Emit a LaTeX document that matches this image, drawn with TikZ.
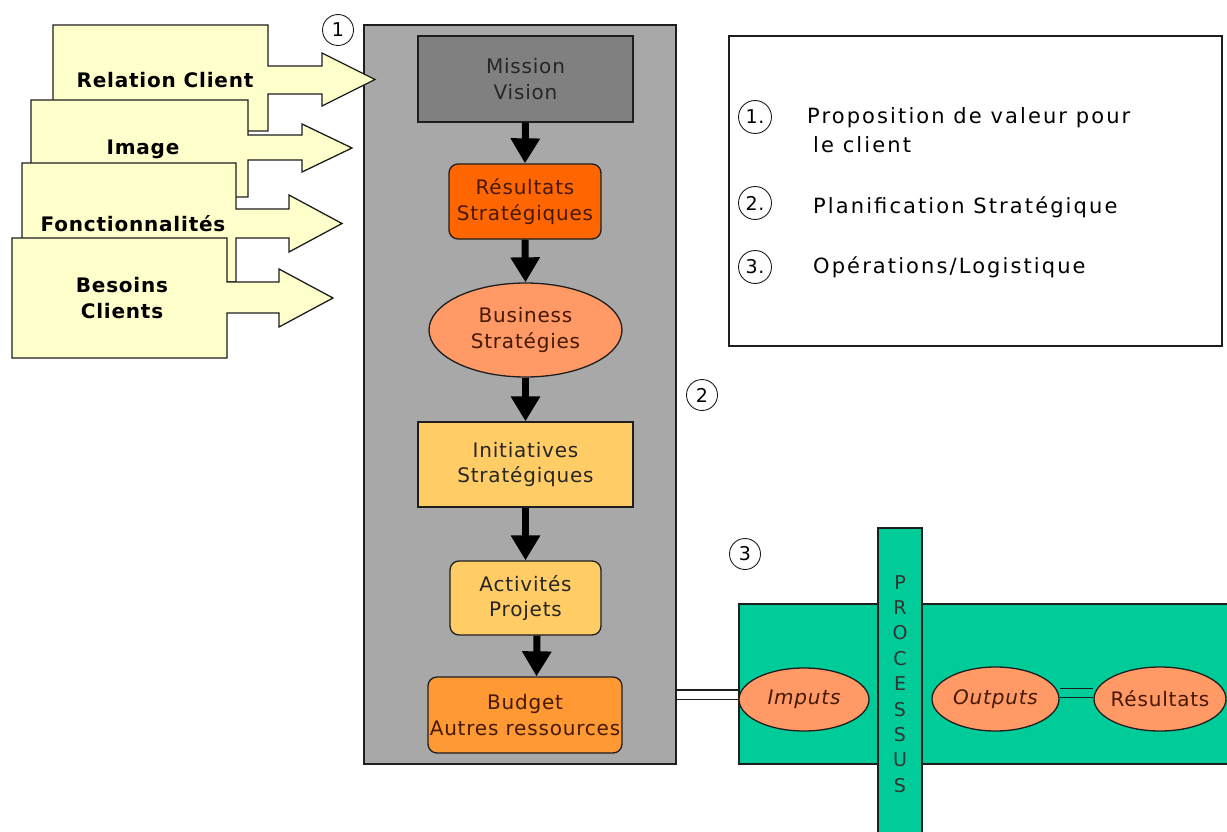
\documentclass[tikz,border=0pt]{standalone}
\usepackage{fontspec}
\setmainfont{DejaVu Sans}[LetterSpace=4]
\newfontfamily\legfont{DejaVu Sans}[LetterSpace=10]
\usetikzlibrary{arrows.meta,shapes.geometric}
\definecolor{callfill}{RGB}{255,255,204}
\definecolor{panelgray}{RGB}{168,168,168}
\definecolor{missgray}{RGB}{128,128,128}
\definecolor{resorange}{RGB}{255,102,0}
\definecolor{salmon}{RGB}{255,153,102}
\definecolor{lightorange}{RGB}{255,204,102}
\definecolor{budorange}{RGB}{255,153,51}
\definecolor{procgreen}{RGB}{0,204,153}
\definecolor{edgecol}{RGB}{30,30,30}
\definecolor{txtbrown}{RGB}{70,25,5}
\tikzset{
  box/.style={draw=edgecol, line width=1.3pt, inner sep=0pt, align=center,
    font=\fontsize{20}{25.5}\selectfont},
  rbox/.style={box, rounded corners=9pt},
  ell/.style={box, ellipse},
  flow/.style={line width=7pt, draw=black, -{Triangle[length=25pt,width=28pt]}},
  num/.style={circle, draw=edgecol, line width=0.9pt, minimum size=31pt,
    inner sep=0pt, font=\fontsize{19}{19}\selectfont},
  callout/.style={draw=edgecol, line width=1.3pt, fill=callfill, line join=miter},
  calltext/.style={font=\bfseries\fontsize{20}{26}\selectfont, align=center},
  legtext/.style={anchor=base west, inner sep=0pt, font=\legfont\fontsize{21}{21}\selectfont},
  dbl/.style={double distance=8pt, line width=1.3pt, draw=edgecol}
}
\begin{document}
\begin{tikzpicture}[x=1pt,y=-1pt]
\useasboundingbox (0,0) rectangle (1227,832);
\clip (0,0) rectangle (1227,832);

% central panel
\node[draw=edgecol, line width=1.5pt, fill=panelgray, minimum width=312pt,
  minimum height=739pt, inner sep=0pt] (panel) at (520,394.5) {};

% callouts
\path[callout] (53,25) -- (268,25) -- (268,66) -- (322,66) -- (322,53) -- (375,79.5)
  -- (322,106) -- (322,94) -- (268,94) -- (268,131) -- (53,131) -- cycle;
\node[calltext] (t1) at (165,80) {Relation Client};
\path[callout] (31,100) -- (248,100) -- (248,135) -- (302,135) -- (302,124) -- (352,148)
  -- (302,172) -- (302,160) -- (248,160) -- (248,197) -- (31,197) -- cycle;
\node[calltext] (t2) at (143,149) {Image};
\path[callout] (22,163) -- (236,163) -- (236,209) -- (289,209) -- (289,195) -- (342,223.5)
  -- (289,252) -- (289,238) -- (236,238) -- (236,282) -- (22,282) -- cycle;
\node[calltext] (t3) at (133,224) {Fonctionnalités};
\path[callout] (12,238) -- (227,238) -- (227,282) -- (279,282) -- (279,269) -- (333,298)
  -- (279,327) -- (279,313) -- (227,313) -- (227,358) -- (12,358) -- cycle;
\node[calltext] (t4) at (122,298) {Besoins\\Clients};

% column boxes
\node[box, fill=missgray, text=black!85, minimum width=215pt, minimum height=86pt]
  (mission) at (525.5,79) {Mission\\Vision};
\node[rbox, fill=resorange, text=txtbrown, minimum width=152pt, minimum height=75pt]
  (res) at (525,201.5) {Résultats\\Stratégiques};
\node[ell, fill=salmon, text=txtbrown, minimum width=193pt, minimum height=94pt]
  (bus) at (525.5,330) {Business\\Stratégies};
\node[box, fill=lightorange, text=black!85, minimum width=215pt, minimum height=85pt]
  (ini) at (525.5,464.5) {Initiatives\\Stratégiques};
\node[rbox, fill=lightorange, text=black!85, minimum width=151pt, minimum height=74pt]
  (act) at (525.5,598) {Activités\\Projets};
\node[rbox, fill=budorange, text=txtbrown, minimum width=194pt, minimum height=76pt]
  (bud) at (525,715) {Budget\\Autres ressources};

\draw[flow] (mission.south) -- (res.north);
\draw[flow] (res.south) -- (bus.north);
\draw[flow] (bus.south) -- (ini.north);
\draw[flow] (ini.south) -- (act.north);
\draw[flow] ([xshift=11.5pt]act.south) -- ([xshift=11.5pt]bud.north);

% numbered circles
\node[num] (c1) at (338,30) {1};
\node[num] (c2) at (702,395) {2};
\node[num] (c3) at (745,554) {3};

% legend
\node[draw=edgecol, line width=1.3pt, minimum width=493pt, minimum height=310pt,
  inner sep=0pt] (legend) at (975.5,191) {};
\node[num, minimum size=33pt] (l1) at (755,117) {1.};
\node[num, minimum size=33pt] (l2) at (755,203) {2.};
\node[num, minimum size=33pt] (l3) at (755,267) {3.};
\node[legtext] (lt1) at (807,124) {Proposition de valeur pour};
\node[legtext] (lt1b) at (813,153) {le client};
\node[legtext] (lt2) at (813,213) {Planification Stratégique};
\node[legtext] (lt3) at (813,273) {Opérations/Logistique};

% process area
\node[draw=edgecol, line width=1.3pt, fill=procgreen, minimum width=501pt,
  minimum height=160pt, inner sep=0pt] (green) at (989.5,684) {};
\node[draw=edgecol, line width=1.3pt, fill=procgreen, minimum width=44pt,
  minimum height=322pt, inner sep=0pt] (bar) at (900,689) {};
\node[align=center, inner sep=0pt, text=black!80, font=\fontsize{19}{25.4}\selectfont]
  (proctxt) at (900,684) {P\\R\\O\\C\\E\\S\\S\\U\\S};

\node[ell, fill=salmon, text=txtbrown, minimum width=130pt, minimum height=63pt,
  font=\itshape\fontsize{20}{25}\selectfont] (imp) at (804,699.5) {Imputs};
\node[ell, fill=salmon, text=txtbrown, minimum width=127pt, minimum height=64pt,
  font=\itshape\fontsize{20}{25}\selectfont] (out) at (995.5,699) {Outputs};
\node[ell, fill=salmon, text=txtbrown, minimum width=132pt, minimum height=64pt,
  inner xsep=-6pt] (resu) at (1160,699) {Résultats};

\coordinate (impin) at ([yshift=5pt]imp.west);
\draw[dbl, double=white] (impin -| panel.east) -- (impin);
\coordinate (outr) at ([yshift=6pt]out.east);
\draw[dbl, double=procgreen] (outr) -- (outr -| resu.west);
\end{tikzpicture}
\end{document}
